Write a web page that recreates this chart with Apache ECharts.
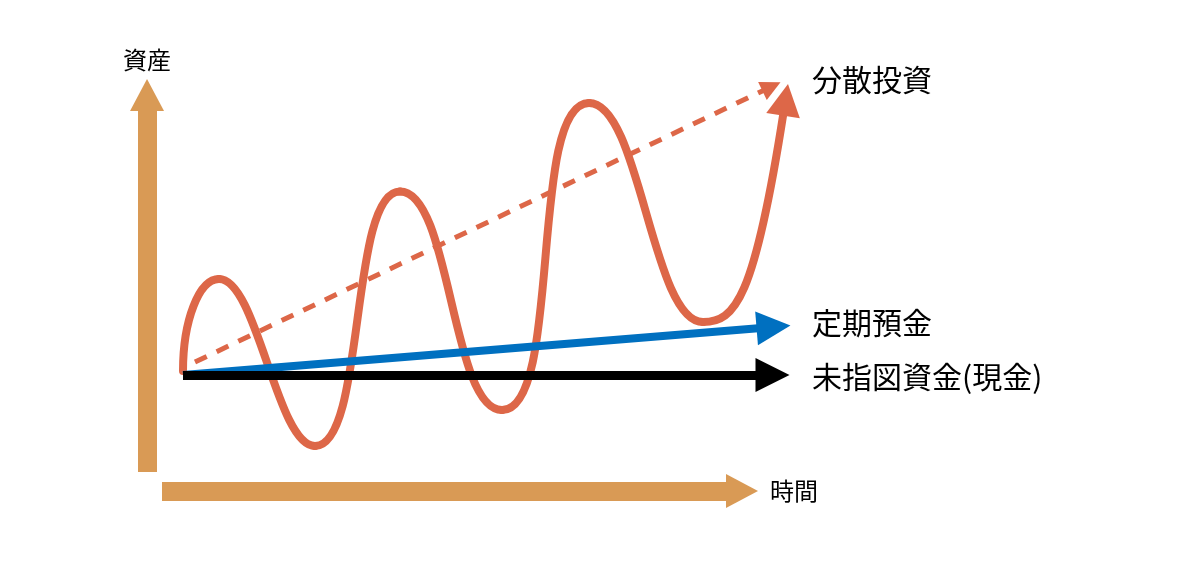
<!DOCTYPE html>
<html><head><meta charset="utf-8">
<script src="https://cdn.jsdelivr.net/npm/echarts@6/dist/echarts.min.js"></script>
<style>html,body{margin:0;padding:0;background:#fff}#c{width:1200px;height:573px}</style>
</head><body><div id="c"></div>
<script>
// ---- data (time: 0..10, asset: 0..100) ----
const axisNameY = '資産';
const axisNameX = '時間';
// start, peaks / troughs of the diversified-investment curve, and its arrow tip
const waveTime  = [0, 0.6, 2.2, 3.617, 5.317, 6.767, 8.667, 10.083];
const waveAsset = [26, 49, 7.25, 70.9, 16.25, 93, 38.25, 97.75];
const waveShaft    = [9.8, 70.5];            // a point on the last rise, before the arrow head
const trendLine    = [[0.2, 28.25], [9.808, 97.1]];
const depositLine  = [[0, 25], [9.842, 37]];
const cashLine     = [[0, 25], [9.825, 25]];
const seriesNames  = ['分散投資', '定期預金', '未指図資金(現金)'];

// ---- style ----
const ORANGE = '#DD6748', AXIS = '#D99A55', BLUE = '#0070C0', BLACK = '#000000';
const FONT = '"Noto Sans CJK JP", "Noto Sans", sans-serif';
const SEG_TENSION = [0, 0, 0.4, 0.6, 0.5, 0.7, 0.45, 0];

const waveData = waveTime.map((t, i) => [t, waveAsset[i]]);

function renderWave(params, api) {
  const i = params.dataIndex;
  if (i === 0) return null;
  const p0 = api.coord(waveData[i - 1]);
  const p1 = api.coord(waveData[i]);
  const st = { stroke: ORANGE, lineWidth: 8, fill: 'none', lineCap: 'round' };
  const dx = p1[0] - p0[0];
  if (i === 1) {
    return { type: 'bezierCurve', style: st, shape: {
      x1: p0[0], y1: p0[1], cpx1: p0[0], cpy1: p0[1] + 0.552 * (p1[1] - p0[1]),
      cpx2: p1[0] - 0.552 * dx, cpy2: p1[1], x2: p1[0], y2: p1[1] } };
  }
  if (i < waveData.length - 1) {
    const k = SEG_TENSION[i];
    return { type: 'bezierCurve', style: st, shape: {
      x1: p0[0], y1: p0[1], cpx1: p0[0] + k * dx, cpy1: p0[1],
      cpx2: p1[0] - k * dx, cpy2: p1[1], x2: p1[0], y2: p1[1] } };
  }
  // last rise with arrow head
  const aim = api.coord(waveShaft);
  let ux = p1[0] - aim[0], uy = p1[1] - aim[1];
  const len = Math.hypot(ux, uy); ux /= len; uy /= len;
  const head = 32, half = 17;
  const ex = p1[0] - ux * (head - 3), ey = p1[1] - uy * (head - 3);
  const L = 0.9 * Math.abs(ey - p0[1]);
  const bx = p1[0] - ux * head, by = p1[1] - uy * head;
  const px = -uy, py = ux;
  const w = 4.5;
  return { type: 'group', children: [
    { type: 'polygon', z2: 1, shape: { points: [
        [p1[0] + ux * w * 1.8, p1[1] + uy * w * 1.8],
        [bx - ux * w * 0.6 + px * (half + w), by - uy * w * 0.6 + py * (half + w)],
        [bx - ux * w * 0.6 - px * (half + w), by - uy * w * 0.6 - py * (half + w)]] },
      style: { fill: '#ffffff' } },
    { type: 'bezierCurve', z2: 2, style: st, shape: {
      x1: p0[0], y1: p0[1], cpx1: p0[0] + 0.4 * (ex - p0[0]), cpy1: p0[1],
      cpx2: ex - ux * L, cpy2: ey - uy * L, x2: ex, y2: ey } },
    { type: 'polygon', z2: 3, shape: { points: [
        [p1[0], p1[1]], [bx + px * half, by + py * half], [bx - px * half, by - py * half]] },
      style: { fill: ORANGE } }
  ] };
}

const axisArrow = {
  show: true, onZero: false,
  symbol: ['none', 'triangle'], symbolSize: [34, 32], symbolOffset: [0, 15],
  lineStyle: { color: AXIS, width: 19, cap: 'butt' }
};
const hidden = { show: false };

const chart = echarts.init(document.getElementById('c'), null, { renderer: 'canvas' });
chart.setOption({
  animation: false,
  backgroundColor: '#fff',
  grid: [
    { left: 162, right: 473, top: 110, bottom: 101 },
    { left: 183, right: 417, top: 75, bottom: 98 }
  ],
  xAxis: [
    { gridIndex: 0, type: 'value', min: 0, max: 1, offset: 19, axisLine: axisArrow,
      axisTick: hidden, axisLabel: hidden, splitLine: hidden,
      name: axisNameX, nameLocation: 'end', nameGap: 43,
      nameTextStyle: { fontSize: 24, color: BLACK, fontFamily: FONT } },
    { gridIndex: 1, type: 'value', min: 0, max: 10, show: false }
  ],
  yAxis: [
    { gridIndex: 0, type: 'value', min: 0, max: 1, offset: 15, axisLine: axisArrow,
      axisTick: hidden, axisLabel: hidden, splitLine: hidden,
      name: axisNameY, nameLocation: 'end', nameGap: 38,
      nameTextStyle: { fontSize: 24, color: BLACK, fontFamily: FONT } },
    { gridIndex: 1, type: 'value', min: 0, max: 100, show: false }
  ],
  series: [
    { type: 'lines', coordinateSystem: 'cartesian2d', xAxisIndex: 1, yAxisIndex: 1, z: 2, clip: false,
      symbol: ['none', 'triangle'], symbolSize: 20,
      lineStyle: { color: ORANGE, width: 5, type: [13, 11], opacity: 1 },
      data: [{ coords: trendLine }] },
    { name: seriesNames[0], type: 'custom', coordinateSystem: 'cartesian2d', xAxisIndex: 1, yAxisIndex: 1,
      z: 4, clip: false, renderItem: renderWave, data: waveData },
    { name: seriesNames[1], type: 'lines', coordinateSystem: 'cartesian2d', xAxisIndex: 1, yAxisIndex: 1, z: 5, clip: false,
      symbol: ['none', 'triangle'], symbolSize: 34,
      lineStyle: { color: BLUE, width: 8, opacity: 1 },
      data: [{ coords: depositLine }] },
    { name: seriesNames[2], type: 'lines', coordinateSystem: 'cartesian2d', xAxisIndex: 1, yAxisIndex: 1, z: 6, clip: false,
      symbol: ['none', 'triangle'], symbolSize: 34,
      lineStyle: { color: BLACK, width: 9, opacity: 1 },
      data: [{ coords: cashLine }] }
  ],
  graphic: [
    { type: 'text', left: 812, top: 65, style: { text: seriesNames[0], font: '30px ' + FONT, fill: BLACK } },
    { type: 'text', left: 812, top: 308, style: { text: seriesNames[1], font: '30px ' + FONT, fill: BLACK } },
    { type: 'text', left: 812, top: 362, style: { text: seriesNames[2], font: '30px ' + FONT, fill: BLACK } }
  ]
});
</script>
</body></html>
